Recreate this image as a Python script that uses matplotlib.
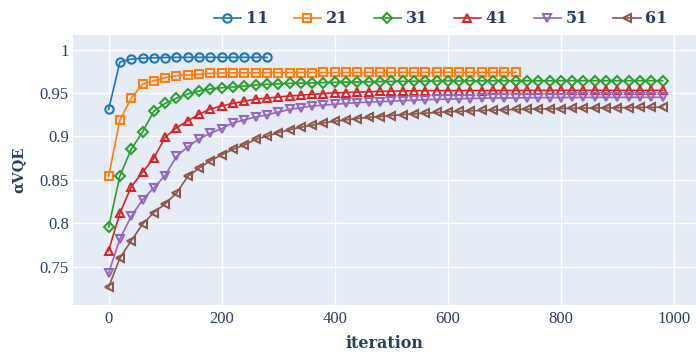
import matplotlib
matplotlib.use("Agg")
import matplotlib.pyplot as plt
import numpy as np

labels = ["11", "21", "31", "41", "51", "61"]
colors = ["#1f77b4", "#ff7f0e", "#2ca02c", "#d62728", "#9467bd", "#8c564b"]
markers = ["o", "s", "D", "^", "v", "<"]

y11 = [0.931, 0.9856, 0.989, 0.990, 0.9905, 0.9908, 0.991, 0.991, 0.991, 0.991,
       0.991, 0.991, 0.991, 0.991, 0.991]
y21 = [0.854, 0.919, 0.944, 0.960, 0.964, 0.9676, 0.970, 0.9707, 0.9715, 0.9726,
       0.9731, 0.9732, 0.9733, 0.9733, 0.9734, 0.9734, 0.9735, 0.9735, 0.9735, 0.9736,
       0.9736, 0.9736, 0.9736, 0.9737, 0.9737, 0.9737, 0.9737, 0.9737, 0.9737, 0.9738,
       0.9738, 0.9738, 0.9738, 0.9738, 0.9738, 0.9738, 0.9738]
y31 = [0.7956, 0.8546, 0.8853, 0.905, 0.929, 0.938, 0.944, 0.9489, 0.9523, 0.9546,
       0.956, 0.9569, 0.958, 0.9592, 0.960, 0.9605, 0.961, 0.9613, 0.9616, 0.9619,
       0.9622, 0.9625, 0.9627, 0.9629, 0.9631, 0.9633, 0.9634, 0.9635, 0.9636, 0.9637,
       0.9638, 0.9638, 0.9639, 0.9639, 0.9639, 0.9640, 0.9640, 0.9640, 0.9640, 0.9640,
       0.9641, 0.9641, 0.9641, 0.9641, 0.9641, 0.9641, 0.9641, 0.9641, 0.9641, 0.9641]
y41 = [0.7687, 0.8117, 0.842, 0.8588, 0.875, 0.899, 0.910, 0.918, 0.9255, 0.9316,
       0.935, 0.938, 0.9405, 0.943, 0.944, 0.9454, 0.9465, 0.9475, 0.9485, 0.9493,
       0.950, 0.9505, 0.951, 0.9514, 0.9518, 0.9521, 0.9523, 0.9525, 0.9526, 0.9527,
       0.9527, 0.9528, 0.9528, 0.9528, 0.9529, 0.9529, 0.9529, 0.9529, 0.9530, 0.9530,
       0.9530, 0.9530, 0.9530, 0.9530, 0.9530, 0.9530, 0.9530, 0.9530, 0.9530, 0.9530]
y51 = [0.7428, 0.7822, 0.808, 0.827, 0.841, 0.855, 0.877, 0.888, 0.897, 0.9037,
       0.909, 0.9155, 0.919, 0.9224, 0.9247, 0.928, 0.931, 0.933, 0.935, 0.936,
       0.937, 0.938, 0.9388, 0.9395, 0.940, 0.9406, 0.9412, 0.9417, 0.9422, 0.9426,
       0.9430, 0.9433, 0.9436, 0.9439, 0.9441, 0.9443, 0.9444, 0.9445, 0.9446, 0.9447,
       0.9447, 0.9448, 0.9448, 0.9449, 0.9449, 0.9449, 0.9450, 0.9450, 0.9450, 0.9450]
y61 = [0.7267, 0.760, 0.780, 0.799, 0.8124, 0.8224, 0.8347, 0.854, 0.8634, 0.872,
       0.8787, 0.8853, 0.890, 0.8968, 0.900, 0.9044, 0.9075, 0.9106, 0.9129, 0.9155,
       0.9175, 0.919, 0.9205, 0.922, 0.9228, 0.924, 0.925, 0.926, 0.9268, 0.9276,
       0.9283, 0.9289, 0.9294, 0.9299, 0.9303, 0.9307, 0.9310, 0.9313, 0.9316, 0.9318,
       0.9321, 0.9323, 0.9325, 0.9327, 0.9329, 0.9331, 0.9332, 0.9334, 0.9335, 0.9336]
series = [y11, y21, y31, y41, y51, y61]
step = 20

xticks = [0, 200, 400, 600, 800, 1000]
yticks = [0.75, 0.8, 0.85, 0.9, 0.95, 1.0]
ytick_labels = ["0.75", "0.8", "0.85", "0.9", "0.95", "1"]

fig = plt.figure(figsize=(6.96, 3.54), dpi=100)
ax = fig.add_axes([73/696, 49/354, 1 - 73/696, (305 - 35)/354])
ax.set_facecolor("#E5ECF6")
for s in ax.spines.values():
    s.set_visible(False)
ax.grid(True, color="white", linewidth=1.0)
ax.set_axisbelow(True)

handles = []
for lab, col, mk, ys in zip(labels, colors, markers, series):
    xs = np.arange(len(ys)) * step
    h, = ax.plot(xs, ys, color=col, linewidth=1.2, marker=mk, markersize=6 if mk != "D" else 5.5,
                 markerfacecolor="none", markeredgecolor=col, markeredgewidth=1.5, label=lab)
    handles.append(h)

ax.set_xlim(-63, 1039)
ax.set_ylim(0.706, 1.0167)
ax.set_xticks(xticks)
ax.set_yticks(yticks)
ax.set_yticklabels(ytick_labels)
ax.tick_params(length=0, labelsize=12, labelcolor="#2a3f5f", pad=3)
ax.tick_params(axis="x", pad=4)
for t in ax.get_xticklabels() + ax.get_yticklabels():
    t.set_fontfamily("Liberation Serif")

ax.set_xlabel("iteration", fontsize=11.5, fontweight="bold", color="#2a3f5f",
              family="DejaVu Serif", labelpad=6)
ax.set_ylabel("αVQE", fontsize=10.5, fontweight="bold", color="#2a3f5f",
              family="DejaVu Serif", labelpad=10)

leg = fig.legend(handles=handles, loc="upper right", bbox_to_anchor=(0.98, 1.012), ncol=6,
                 frameon=False, handlelength=1.7, columnspacing=1.6, handletextpad=0.3,
                 prop={"family": "DejaVu Serif", "weight": "bold", "size": 11.5})
for t in leg.get_texts():
    t.set_color("#2a3f5f")

fig.savefig("out.png", dpi=100)
